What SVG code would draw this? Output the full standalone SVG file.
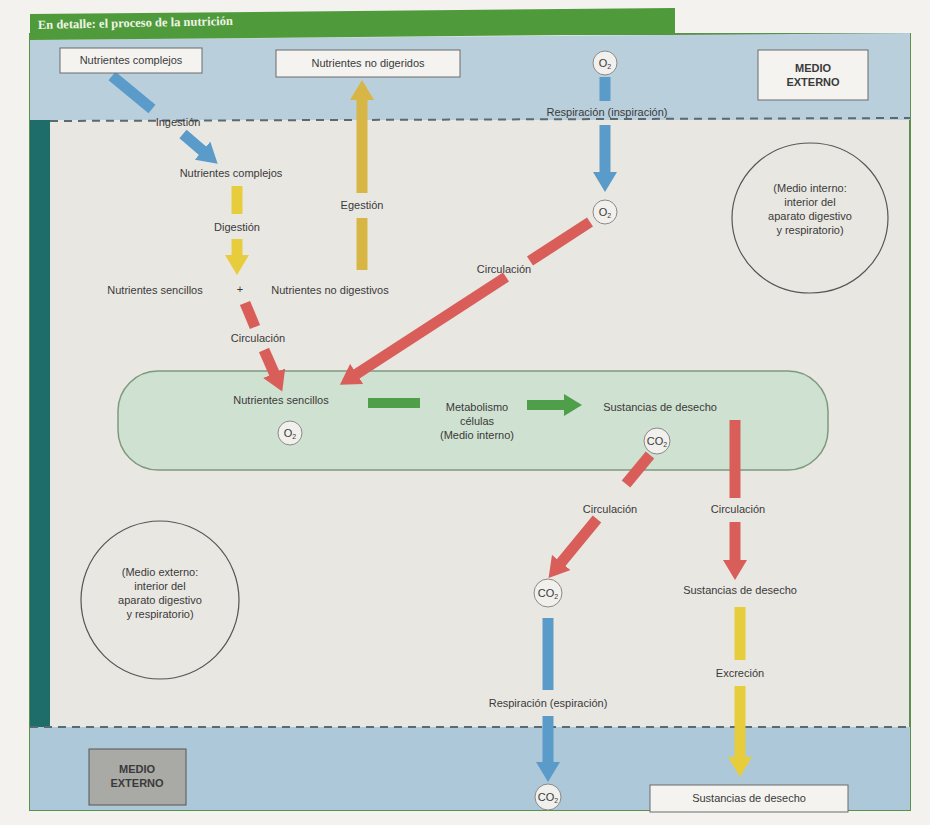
<svg xmlns="http://www.w3.org/2000/svg" width="930" height="825" viewBox="0 0 930 825">
<style>
.t{font-family:"Liberation Sans",Arial,sans-serif;font-size:11px;fill:#3a3a3a;text-anchor:middle}
.box{fill:#f4f3f0;stroke:#6a6a6a;stroke-width:1}
.circ{fill:#f1f0ec;stroke:#8a8a8a;stroke-width:1}
.big{fill:none;stroke:#555;stroke-width:1.2}
.blue{stroke:#5a9bc9;stroke-width:11;fill:none}
.yel{stroke:#e7cc3c;stroke-width:11;fill:none}
.gold{stroke:#d8b646;stroke-width:11;fill:none}
.red{stroke:#d95e5a;stroke-width:11;fill:none}
.grn{stroke:#4f9f4a;stroke-width:10;fill:none}
.dash{stroke:#5a6a72;stroke-width:2;stroke-dasharray:8 6;fill:none}
</style>
<defs>
<marker id="hb" markerUnits="userSpaceOnUse" markerWidth="24" markerHeight="24" viewBox="0 0 24 24" refX="2" refY="12" orient="auto"><path d="M0,0 L20,12 L0,24 z" fill="#5a9bc9"/></marker>
<marker id="hy" markerUnits="userSpaceOnUse" markerWidth="24" markerHeight="24" viewBox="0 0 24 24" refX="2" refY="12" orient="auto"><path d="M0,0 L20,12 L0,24 z" fill="#e7cc3c"/></marker>
<marker id="hg" markerUnits="userSpaceOnUse" markerWidth="24" markerHeight="24" viewBox="0 0 24 24" refX="2" refY="12" orient="auto"><path d="M0,0 L20,12 L0,24 z" fill="#d8b646"/></marker>
<marker id="hr" markerUnits="userSpaceOnUse" markerWidth="24" markerHeight="24" viewBox="0 0 24 24" refX="2" refY="12" orient="auto"><path d="M0,0 L20,12 L0,24 z" fill="#d95e5a"/></marker>
<marker id="hgr" markerUnits="userSpaceOnUse" markerWidth="24" markerHeight="24" viewBox="0 0 24 24" refX="2" refY="12" orient="auto"><path d="M0,1 L18,12 L0,23 z" fill="#4f9f4a"/></marker>
</defs>

<!-- page -->
<rect x="0" y="0" width="930" height="825" fill="#f3f2ef"/>
<g id="frame">
<rect x="30" y="34" width="880" height="776" fill="#e9e7e2" stroke="#5d8f4c" stroke-width="2"/>
<polygon points="30,40 910,33 910,120 30,120" fill="#b9cfdc"/>
<rect x="30" y="727" width="880" height="83" fill="#adc8d8"/>
<rect x="30" y="120" width="20" height="607" fill="#1f6d6a"/>
<line class="dash" x1="50" y1="121" x2="910" y2="118"/>
<line class="dash" x1="30" y1="727" x2="910" y2="727"/>
<polygon points="30,14 675,8 675,34 30,40" fill="#4f9a3a"/>
<text x="38" y="29" transform="rotate(-1.2 38 29)" font-family="'Liberation Serif',serif" font-size="12.5" font-weight="bold" fill="#eef5e8">En detalle: el proceso de la nutrición</text>
</g>

<!-- cell area (drawn beneath the connectors) -->
<g id="n-celulas"><rect x="118" y="371" width="710" height="99" rx="40" ry="40" fill="#cfe1d0" stroke="#7d9a7f" stroke-width="1.5"/>
<text class="t" x="281" y="404">Nutrientes sencillos</text>
<circle class="circ" cx="290" cy="433" r="12"/><text class="t" x="290" y="437">O<tspan font-size="7" dy="2">2</tspan></text>
<text class="t" x="477" y="411">Metabolismo</text><text class="t" x="477" y="425">células</text><text class="t" x="477" y="439">(Medio interno)</text>
<text class="t" x="660" y="411">Sustancias de desecho</text>
<circle class="circ" cx="657" cy="441" r="13"/><text class="t" x="657" y="445">CO<tspan font-size="7" dy="2">2</tspan></text></g>

<!-- connectors -->
<g id="connectors">
<line class="blue" x1="112" y1="76" x2="152" y2="109"/>
<line class="blue" x1="183" y1="134" x2="204" y2="152" marker-end="url(#hb)"/>
<line class="gold" x1="362" y1="270" x2="362" y2="218"/>
<line class="gold" x1="362" y1="193" x2="362" y2="98" marker-end="url(#hg)"/>
<line class="blue" x1="605" y1="77" x2="605" y2="101"/>
<line class="blue" x1="605" y1="125" x2="605" y2="174" marker-end="url(#hb)"/>
<line class="yel" x1="237" y1="186" x2="237" y2="214"/>
<line class="yel" x1="237" y1="239" x2="237" y2="257" marker-end="url(#hy)"/>
<line class="red" x1="245" y1="303" x2="255" y2="327"/>
<line class="red" x1="264" y1="350" x2="275" y2="375" marker-end="url(#hr)"/>
<line class="red" x1="590" y1="222" x2="530" y2="261"/>
<line class="red" x1="506" y1="277" x2="355" y2="375" marker-end="url(#hr)"/>
<line class="grn" x1="368" y1="403" x2="420" y2="403"/>
<line class="grn" x1="527" y1="405" x2="566" y2="405" marker-end="url(#hgr)"/>
<line class="red" x1="650" y1="455" x2="626" y2="484"/>
<line class="red" x1="597" y1="519" x2="560" y2="564" marker-end="url(#hr)"/>
<line class="red" x1="735" y1="420" x2="735" y2="498"/>
<line class="red" x1="735" y1="522" x2="735" y2="562" marker-end="url(#hr)"/>
<line class="blue" x1="548" y1="618" x2="548" y2="690"/>
<line class="blue" x1="548" y1="716" x2="548" y2="764" marker-end="url(#hb)"/>
<line class="yel" x1="740" y1="607" x2="740" y2="660"/>
<line class="yel" x1="740" y1="686" x2="740" y2="759" marker-end="url(#hy)"/>
<text class="t" x="178" y="126">Ingestión</text>
<text class="t" x="362" y="209">Egestión</text>
<text class="t" x="607" y="116">Respiración (inspiración)</text>
<text class="t" x="237" y="231">Digestión</text>
<text class="t" x="258" y="342">Circulación</text>
<text class="t" x="504" y="273">Circulación</text>
<text class="t" x="610" y="513">Circulación</text>
<text class="t" x="738" y="513">Circulación</text>
<text class="t" x="548" y="707">Respiración (espiración)</text>
<text class="t" x="740" y="677">Excreción</text>
</g>

<!-- nodes -->
<g id="n-nutrientes-complejos-top"><rect class="box" x="60" y="48" width="142" height="25"/><text class="t" x="131" y="64">Nutrientes complejos</text></g>
<g id="n-no-digeridos"><rect class="box" x="276" y="50" width="184" height="27"/><text class="t" x="368" y="67">Nutrientes no digeridos</text></g>
<g id="n-o2-top"><circle class="circ" cx="605" cy="63" r="12"/><text class="t" x="605" y="67">O<tspan font-size="7" dy="2">2</tspan></text></g>
<g id="n-medio-externo-top"><rect class="box" x="758" y="50" width="110" height="50"/><text class="t" x="813" y="72" font-weight="bold">MEDIO</text><text class="t" x="813" y="86" font-weight="bold">EXTERNO</text></g>
<g id="n-nutrientes-complejos"><text class="t" x="231" y="177">Nutrientes complejos</text></g>
<g id="n-o2-mid"><circle class="circ" cx="605" cy="212" r="12"/><text class="t" x="605" y="216">O<tspan font-size="7" dy="2">2</tspan></text></g>
<g id="n-medio-interno-circle"><ellipse class="big" cx="810" cy="218" rx="78" ry="75"/><text class="t" x="810" y="192">(Medio interno:</text><text class="t" x="810" y="206">interior del</text><text class="t" x="810" y="220">aparato digestivo</text><text class="t" x="810" y="234">y respiratorio)</text></g>
<g id="n-sencillos-no-digestivos"><text class="t" x="155" y="294">Nutrientes sencillos</text><text class="t" x="240" y="293">+</text><text class="t" x="330" y="294">Nutrientes no digestivos</text></g>
<g id="n-co2-mid"><circle class="circ" cx="548" cy="593" r="14"/><text class="t" x="548" y="597">CO<tspan font-size="7" dy="2">2</tspan></text></g>
<g id="n-desecho-mid"><text class="t" x="740" y="594">Sustancias de desecho</text></g>
<g id="n-medio-externo-circle"><circle class="big" cx="160" cy="600" r="79"/><text class="t" x="160" y="576">(Medio externo:</text><text class="t" x="160" y="590">interior del</text><text class="t" x="160" y="604">aparato digestivo</text><text class="t" x="160" y="618">y respiratorio)</text></g>
<g id="n-medio-externo-bottom"><rect x="89" y="749" width="97" height="56" fill="#a9a9a6" stroke="#555" stroke-width="1"/><text class="t" x="137" y="773" font-weight="bold">MEDIO</text><text class="t" x="137" y="787" font-weight="bold">EXTERNO</text></g>
<g id="n-co2-bottom"><circle class="circ" cx="548" cy="797" r="13"/><text class="t" x="548" y="801">CO<tspan font-size="7" dy="2">2</tspan></text></g>
<g id="n-desecho-bottom"><rect class="box" x="650" y="785" width="198" height="27"/><text class="t" x="749" y="802">Sustancias de desecho</text></g>
</svg>
